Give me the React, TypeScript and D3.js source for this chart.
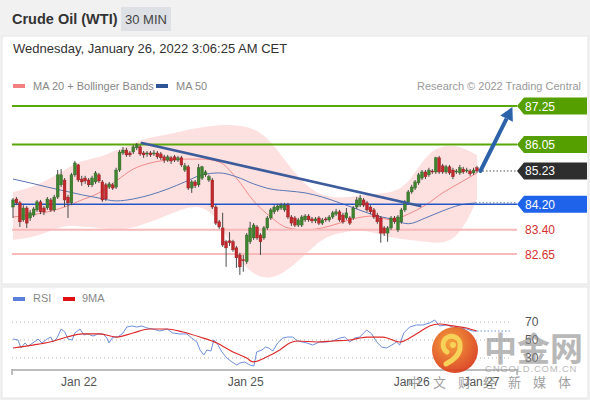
import React from "react";
import * as d3 from "d3";

// ---------- DATA ----------
// candles: [open, high, low, close]
const ohlc: [number, number, number, number][] = [
  [84.11, 84.39, 83.77, 84.33], [84.36, 84.42, 84.17, 84.24], [84.24, 84.30, 83.49, 83.65], [83.71, 84.17, 83.65, 84.08],
  [84.08, 84.14, 83.46, 83.61], [83.77, 84.02, 83.68, 83.93], [83.86, 84.11, 83.80, 84.05], [84.02, 84.33, 83.96, 84.27],
  [84.27, 84.33, 83.89, 83.96], [84.08, 84.14, 83.86, 83.96], [84.08, 84.42, 84.02, 84.36], [84.33, 84.39, 83.96, 84.02],
  [84.02, 84.49, 83.96, 84.42], [84.42, 85.26, 84.36, 85.11], [84.80, 85.29, 84.73, 85.11], [84.95, 85.01, 84.11, 84.33],
  [84.42, 84.49, 83.77, 84.24], [84.24, 85.17, 84.17, 85.11], [85.11, 85.54, 85.05, 85.48], [85.42, 85.45, 84.89, 84.95],
  [84.98, 85.08, 84.77, 84.89], [85.01, 85.08, 84.83, 84.92], [84.95, 85.01, 84.73, 84.80], [84.80, 85.08, 84.73, 85.01],
  [84.89, 85.23, 84.83, 85.17], [85.11, 85.17, 84.86, 84.92], [84.89, 84.95, 84.27, 84.33], [84.80, 84.86, 84.30, 84.36],
  [84.73, 84.89, 84.67, 84.83], [84.80, 84.86, 84.64, 84.70], [84.73, 85.33, 84.67, 85.26], [85.26, 85.88, 85.20, 85.82],
  [85.79, 85.98, 85.73, 85.88], [85.88, 85.95, 85.67, 85.73], [85.79, 85.85, 85.67, 85.73], [85.82, 86.04, 85.76, 85.98],
  [85.95, 86.10, 85.88, 86.04], [85.98, 86.04, 85.70, 85.76], [85.79, 85.85, 85.64, 85.73], [85.76, 85.85, 85.67, 85.79],
  [85.79, 85.85, 85.67, 85.73], [85.76, 85.88, 85.70, 85.79], [85.79, 85.85, 85.60, 85.67], [85.76, 85.82, 85.57, 85.64],
  [85.67, 85.73, 85.48, 85.57], [85.57, 85.73, 85.51, 85.67], [85.64, 85.70, 85.45, 85.54], [85.67, 85.73, 85.51, 85.57],
  [85.57, 85.70, 85.51, 85.64], [85.64, 85.70, 85.36, 85.42], [85.26, 85.48, 85.20, 85.39], [85.36, 85.42, 84.64, 84.70],
  [84.70, 84.95, 84.55, 84.89], [84.89, 84.95, 84.70, 84.77], [84.80, 85.45, 84.73, 85.33], [85.01, 85.39, 84.95, 85.36],
  [85.11, 85.26, 85.05, 85.20], [84.95, 85.11, 84.89, 85.05], [84.95, 85.01, 84.05, 84.11], [84.11, 84.17, 83.55, 83.61],
  [83.65, 83.71, 83.43, 83.49], [83.46, 83.93, 82.87, 82.93], [83.03, 83.09, 82.25, 82.84], [83.06, 83.33, 82.90, 83.00],
  [83.03, 83.09, 82.72, 82.78], [82.84, 82.90, 82.22, 82.53], [82.62, 82.69, 82.00, 82.25], [82.47, 82.62, 82.10, 82.44],
  [82.41, 83.30, 82.34, 83.24], [83.03, 83.65, 82.96, 83.46], [83.15, 83.61, 83.09, 83.55], [83.49, 83.55, 83.09, 83.15],
  [83.24, 83.30, 82.62, 83.03], [83.15, 83.52, 83.09, 83.46], [83.46, 83.83, 83.40, 83.77], [83.77, 84.08, 83.71, 84.02],
  [83.96, 84.17, 83.89, 84.11], [84.02, 84.21, 83.96, 84.14], [84.08, 84.24, 84.02, 84.17], [84.02, 84.24, 83.96, 84.17],
  [84.17, 84.24, 83.74, 83.80], [83.80, 83.86, 83.52, 83.61], [83.77, 83.83, 83.49, 83.55], [83.55, 83.77, 83.49, 83.71],
  [83.55, 83.86, 83.49, 83.80], [83.71, 83.89, 83.65, 83.83], [83.83, 83.89, 83.65, 83.71], [83.74, 83.80, 83.61, 83.68],
  [83.68, 83.80, 83.61, 83.74], [83.77, 83.83, 83.55, 83.61], [83.61, 83.77, 83.55, 83.71], [83.74, 83.80, 83.65, 83.71],
  [83.71, 83.86, 83.65, 83.80], [83.80, 83.99, 83.74, 83.93], [83.89, 84.05, 83.83, 83.96], [83.96, 84.02, 83.65, 83.71],
  [83.86, 83.93, 83.59, 83.65], [83.77, 84.08, 83.71, 83.93], [83.77, 83.83, 83.55, 83.61], [83.77, 84.14, 83.71, 84.08],
  [84.11, 84.42, 84.05, 84.33], [84.17, 84.49, 84.11, 84.39], [84.33, 84.39, 84.11, 84.17], [84.24, 84.30, 83.96, 84.02],
  [84.11, 84.17, 83.89, 83.96], [84.02, 84.08, 83.74, 83.80], [83.86, 83.93, 83.59, 83.65], [83.77, 83.83, 83.00, 83.30],
  [83.46, 83.52, 83.21, 83.30], [83.30, 83.52, 83.03, 83.46], [83.46, 83.83, 83.40, 83.77], [83.77, 83.83, 83.59, 83.65],
  [83.40, 83.86, 83.33, 83.80], [83.65, 84.08, 83.59, 84.02], [84.02, 84.33, 83.96, 84.27], [84.27, 84.64, 84.21, 84.58],
  [84.58, 84.80, 84.52, 84.73], [84.70, 84.95, 84.64, 84.89], [84.86, 85.17, 84.80, 85.11], [85.01, 85.26, 84.95, 85.20],
  [85.20, 85.26, 84.98, 85.05], [85.11, 85.33, 85.05, 85.26], [85.23, 85.29, 85.14, 85.20], [85.20, 85.67, 85.14, 85.64],
  [85.64, 85.70, 85.14, 85.20], [85.39, 85.45, 85.14, 85.20], [85.20, 85.42, 85.14, 85.36], [85.36, 85.42, 85.11, 85.17],
  [85.26, 85.33, 84.98, 85.05], [85.20, 85.29, 85.14, 85.23], [85.17, 85.42, 85.11, 85.33], [85.29, 85.36, 85.14, 85.20],
  [85.23, 85.33, 85.17, 85.26], [85.23, 85.29, 85.08, 85.14], [85.17, 85.33, 85.11, 85.26], [85.33, 85.39, 85.17, 85.23],
];

// indicator samples (candle index)
const sampleIdx = [0, 5, 10, 15, 20, 25, 30, 35, 40, 45, 50, 55, 60, 65, 70, 75, 80, 85, 90, 95, 100, 105, 110, 115, 120, 125, 130, 135];
const ma20 = [83.80, 83.86, 83.96, 84.11, 84.33, 84.55, 84.92, 85.29, 85.48, 85.57, 85.60, 85.60, 85.51, 85.01, 84.30, 83.80, 83.46, 83.40, 83.46, 83.61, 83.77, 83.83, 83.71, 83.89, 84.17, 84.55, 84.86, 85.17];
const ma50 = [84.98, 84.86, 84.73, 84.61, 84.49, 84.39, 84.30, 84.36, 84.49, 84.67, 84.89, 85.11, 85.17, 85.05, 84.83, 84.67, 84.61, 84.55, 84.42, 84.24, 84.05, 83.86, 83.74, 83.59, 83.77, 83.99, 84.17, 84.24];
const bbUpper = [84.58, 84.70, 84.95, 85.26, 85.57, 85.64, 85.88, 86.10, 86.29, 86.35, 86.50, 86.60, 86.66, 86.66, 86.57, 86.19, 85.42, 84.80, 84.45, 84.39, 84.45, 84.52, 84.55, 84.80, 85.73, 86.04, 86.01, 85.73];
const bbLower = [83.09, 83.15, 83.33, 83.55, 83.50, 83.46, 83.40, 83.46, 83.65, 83.86, 84.08, 84.17, 83.71, 82.53, 82.00, 81.85, 82.16, 82.62, 83.15, 83.30, 83.40, 83.33, 83.15, 83.09, 83.03, 82.96, 83.21, 84.33];

// key levels
const levelValues = [87.25, 86.05, 85.23, 84.2, 83.4, 82.65];
const levelTypes = ["resistance", "resistance", "last", "pivot", "support", "support"];

// trend line & forecast arrow (candle index, price)
const trendIdx = [37.5, 118.5];
const trendVal = [86.1, 84.14];
const arrowIdx = [136, 145.3];
const arrowVal = [85.23, 87.22];

// RSI
const rsiIdx = [0, 1.5, 2.3, 3.5, 4.4, 5.8, 7.3, 8.4, 9.9, 11, 11.6, 12.8, 14, 15.1, 16, 17.2, 18, 19.5, 20.6, 21.8, 23.3, 24.7, 26.2, 27.3, 27.9, 29.1, 30.5, 32, 33.1, 34.6, 36, 37.5, 39, 40.7, 42.7, 44.8, 46.5, 48.5, 50.6, 52, 53.5, 54.4, 55.5, 56.4, 57.6, 58.4, 59.3, 60.8, 62.2, 63.7, 65.1, 66, 67.4, 68.9, 70.1, 70.9, 72.4, 73.5, 74.4, 75.6, 77, 78.5, 79.9, 81.4, 82.8, 85.5, 87.2, 89.2, 91.3, 93, 95.1, 96.5, 98, 99.4, 100.9, 102.9, 104.4, 105.8, 107.3, 108.7, 110.2, 111.6, 112.5, 113.7, 115.4, 117.4, 119.2, 121.2, 122.7, 124.1, 126.2, 127.9, 129.9, 132, 133.7, 134.9];
const rsiVal = [51.1, 50, 41.1, 46.7, 43.3, 46.7, 51.1, 46.7, 51.1, 53.3, 47.8, 52.2, 62.2, 58.9, 51.1, 50, 57.8, 62.2, 55.6, 56.7, 54.4, 56.7, 56.7, 52.2, 46.7, 53.3, 53.3, 57.8, 64.4, 65.6, 64.4, 65.6, 63.3, 62.2, 60, 62.2, 57.8, 56.7, 56.7, 52.2, 47.8, 38.9, 33.3, 38.9, 37.8, 50, 46.7, 36.7, 30, 25.6, 22.2, 24.4, 25.6, 22.2, 21.1, 36.7, 38.9, 42.2, 41.1, 37.8, 46.7, 52.2, 53.3, 53.3, 48.9, 46.7, 44.4, 47.8, 47.8, 48.9, 52.2, 53.3, 47.8, 52.2, 53.3, 61.1, 56.7, 47.8, 42.2, 41.1, 44.4, 47.8, 44.4, 57.8, 64.4, 66.7, 66.7, 68.9, 72.2, 65.6, 66.7, 64.4, 63.3, 62.2, 60, 60];
const ma9Idx = [0, 5.8, 10.8, 15.7, 20.3, 25.3, 30.2, 34.9, 39.8, 44.8, 49.4, 54.4, 59.3, 64, 68, 69.8, 73.8, 77.6, 80.5, 82.8, 88.4, 93, 98, 102.9, 107.6, 112.5, 115.4, 118.3, 121.2, 124.1, 127.9, 132, 134.9];
const ma9Val = [41.1, 44.4, 47.8, 53.3, 56.7, 56.7, 53.3, 57.8, 62.2, 62.2, 58.9, 53.3, 46.7, 36.7, 30, 25.6, 31.1, 38.9, 46.7, 48.9, 47.8, 48.9, 50, 53.3, 53.3, 47.8, 52.2, 58.9, 65.6, 67.8, 65.6, 63.3, 60];
const rsiLevels = [70, 50, 30];

// x-axis
const tickIdx = [19.2, 67.7, 116, 136.3];
const tickLabels = ["Jan 22", "Jan 25", "Jan 26", "Jan 27"];

// ---------- CHART ----------
const FONT = "'Liberation Sans', Arial, Helvetica, sans-serif";
const W = 590;
const H = 400;

export default function App() {
  const x = d3.scaleLinear().domain([0, ohlc.length - 1]).range([13, 477]);
  const y = d3.scaleLinear().domain([82.65, 87.25]).range([254, 106]);
  const ry = d3.scaleLinear().domain([30, 70]).range([358, 322]);

  const xLeft = 12;
  const xRight = 517;
  const lastIdx = ohlc.length - 1;

  const bandArea = d3
    .area<number>()
    .x((_, i) => x(sampleIdx[i]))
    .y0((_, i) => y(bbLower[i]))
    .y1((_, i) => y(bbUpper[i]))
    .curve(d3.curveBasis);

  const lineOf = (idx: number[], vals: number[], ys: (v: number) => number, curve: d3.CurveFactory) =>
    d3
      .line<number>()
      .x((_, i) => x(idx[i]))
      .y((v) => ys(v))
      .curve(curve)(vals.slice(0, idx.length)) || "";

  const ma20Path = lineOf(sampleIdx, ma20, y, d3.curveMonotoneX);
  const ma50Path = lineOf(sampleIdx, ma50, y, d3.curveMonotoneX);
  const rsiPath = lineOf(rsiIdx, rsiVal, ry, d3.curveLinear);
  const ma9Path = lineOf(ma9Idx, ma9Val, ry, d3.curveMonotoneX);

  const green = "#3f8530";
  const red = "#c3282d";

  const levelColor: Record<string, string> = {
    resistance: "#55a000",
    last: "#2e2e2e",
    pivot: "#1f63ea",
    support: "#d3302f",
  };

  const labelPath = (yy: number) =>
    `M${xRight},${yy} L${xRight + 7},${yy - 8.5} L587,${yy - 8.5} L587,${yy + 8.5} L${xRight + 7},${yy + 8.5} Z`;

  // arrow geometry
  const ax0 = x(arrowIdx[0]);
  const ay0 = y(arrowVal[0]);
  const ax1 = x(arrowIdx[1]);
  const ay1 = y(arrowVal[1]);
  const ang = Math.atan2(ay1 - ay0, ax1 - ax0);
  const headLen = 13;
  const headW = 7;
  const bx = ax1 - headLen * Math.cos(ang);
  const by = ay1 - headLen * Math.sin(ang);
  const px = -Math.sin(ang);
  const py = Math.cos(ang);
  const headPts = `${ax1},${ay1} ${bx + headW * px},${by + headW * py} ${bx - headW * px},${by - headW * py}`;

  const ma50Last = ma50[ma50.length - 1];

  return (
    <svg
      width={W}
      height={H}
      viewBox={`0 0 ${W} ${H}`}
      style={{ position: "absolute", left: 0, top: 0, display: "block", fontFamily: FONT }}
    >
      <defs>
        <radialGradient id="logoGrad" cx="40%" cy="35%" r="70%">
          <stop offset="0%" stopColor="#f59a2a" />
          <stop offset="100%" stopColor="#d8361a" />
        </radialGradient>
        <clipPath id="mainClip">
          <rect x={2} y={96} width={586} height={188} />
        </clipPath>
      </defs>

      {/* backgrounds */}
      <rect x={0} y={0} width={W} height={H} fill="#f1f1f1" />
      <rect x={2} y={36} width={586} height={248} fill="#ffffff" stroke="#e6e6e6" />
      <rect x={2} y={287} width={586} height={111} fill="#ffffff" stroke="#e6e6e6" />

      {/* header */}
      <text x={12} y={24} fontSize={14.5} fontWeight="bold" fill="#333">
        Crude Oil (WTI)
      </text>
      <rect x={121} y={7} width={50} height={24} fill="#dde0e5" />
      <text x={146} y={24} fontSize={13} fill="#444" textAnchor="middle">
        30 MIN
      </text>
      <text x={13} y={53} fontSize={13} fill="#333">
        Wednesday, January 26, 2022 3:06:25 AM CET
      </text>

      {/* legend */}
      <rect x={13} y={84} width={12} height={4} fill="#f28080" />
      <text x={33} y={90} fontSize={11} fill="#888">
        MA 20 + Bollinger Bands
      </text>
      <rect x={156} y={84} width={12} height={4} fill="#2f5597" />
      <text x={176} y={90} fontSize={11} fill="#888">
        MA 50
      </text>
      <text x={581} y={90} fontSize={11} fill="#9a9a9a" textAnchor="end">
        Research © 2022 Trading Central
      </text>

      <g clipPath="url(#mainClip)">
        {/* bollinger band */}
        <path d={bandArea(bbUpper) || ""} fill="#fcd8d8" opacity={0.8} />
        <path d={ma20Path} fill="none" stroke="#f08a8a" strokeWidth={1} />
        <path d={ma50Path} fill="none" stroke="#5a78b4" strokeWidth={1} />
      </g>

      {/* level lines */}
      {levelValues.map((v, i) => {
        const t = levelTypes[i];
        const yy = y(v);
        if (t === "last") {
          return (
            <line key={i} x1={x(lastIdx) + 2} x2={xRight} y1={yy} y2={yy} stroke="#555" strokeWidth={1} strokeDasharray="1.5,2" />
          );
        }
        const stroke = t === "resistance" ? "#5aa70a" : t === "pivot" ? "#2557c7" : "#f7b9b9";
        const sw = t === "pivot" ? 1.5 : 2;
        return <line key={i} x1={xLeft} x2={xRight} y1={yy} y2={yy} stroke={stroke} strokeWidth={sw} />;
      })}
      {/* ma50 continuation */}
      <line x1={x(lastIdx) + 2} x2={xRight} y1={y(ma50Last)} y2={y(ma50Last)} stroke="#5a78b4" strokeWidth={1} strokeDasharray="1.5,2" />

      {/* candles */}
      {ohlc.map((d, i) => {
        const [o, h, l, c] = d;
        const up = c >= o;
        const cx = x(i);
        const top = y(Math.max(o, c));
        const bot = y(Math.min(o, c));
        const col = up ? green : red;
        return (
          <g key={i}>
            <line x1={cx} x2={cx} y1={y(h)} y2={y(l)} stroke="#4a4a4a" strokeWidth={1} />
            <rect x={cx - 1.4} y={top} width={2.8} height={Math.max(1, bot - top)} fill={col} stroke={up ? "#2e5e22" : "#8e1c1c"} strokeWidth={0.4} />
          </g>
        );
      })}

      {/* trend line */}
      <line x1={x(trendIdx[0])} y1={y(trendVal[0])} x2={x(trendIdx[1])} y2={y(trendVal[1])} stroke="#3d5c9c" strokeWidth={2.6} strokeLinecap="round" />

      {/* forecast arrow */}
      <line x1={ax0} y1={ay0} x2={bx} y2={by} stroke="#2c62a8" strokeWidth={4} />
      <polygon points={headPts} fill="#2c62a8" />
      <circle cx={ax0} cy={ay0} r={2} fill="#2c62a8" />

      {/* level labels */}
      {levelValues.map((v, i) => {
        const t = levelTypes[i];
        const yy = y(v);
        if (t === "support") {
          return (
            <text key={i} x={525} y={yy + 4.5} fontSize={12} fill={levelColor[t]}>
              {v.toFixed(2)}
            </text>
          );
        }
        return (
          <g key={i}>
            <path d={labelPath(yy)} fill={levelColor[t]} />
            <text x={525} y={yy + 4.5} fontSize={12} fill="#fff">
              {v.toFixed(2)}
            </text>
          </g>
        );
      })}

      {/* RSI panel */}
      <rect x={13} y={297} width={12} height={4} fill="#5b7fdb" />
      <text x={33} y={302} fontSize={11} fill="#888">
        RSI
      </text>
      <rect x={63} y={297} width={12} height={4} fill="#e01010" />
      <text x={82} y={302} fontSize={11} fill="#888">
        9MA
      </text>
      {rsiLevels.map((v) => (
        <g key={v}>
          <line x1={xLeft} x2={512} y1={ry(v)} y2={ry(v)} stroke="#b5b5b5" strokeWidth={1} strokeDasharray="1,3" />
          <text x={525} y={ry(v) + 4} fontSize={12} fill="#555">
            {v}
          </text>
        </g>
      ))}
      <path d={rsiPath} fill="none" stroke="#6f8fdc" strokeWidth={1} />
      <path d={ma9Path} fill="none" stroke="#dd2a2a" strokeWidth={1.2} />
      <line x1={x(lastIdx)} x2={512} y1={ry(rsiVal[rsiVal.length - 1])} y2={ry(rsiVal[rsiVal.length - 1])} stroke="#6f8fdc" strokeWidth={1} strokeDasharray="1.5,2" />

      {/* x axis */}
      <line x1={xLeft} x2={xRight} y1={370} y2={370} stroke="#a8a8a8" strokeWidth={1.5} />
      <line x1={xLeft} x2={xLeft} y1={369} y2={375} stroke="#a8a8a8" strokeWidth={1.5} />
      <line x1={xRight} x2={xRight} y1={369} y2={375} stroke="#a8a8a8" strokeWidth={1.5} />
      {tickIdx.map((t, i) => (
        <text key={i} x={x(t)} y={386} fontSize={12} fill="#555" textAnchor="middle">
          {tickLabels[i]}
        </text>
      ))}

      {/* watermark */}
      <g opacity={0.92}>
        <circle cx={455} cy={350} r={23} fill="url(#logoGrad)" />
        <path d="M447,352 a8.5,8.5 0 1 1 13,-6 q1,10 -14,18" fill="none" stroke="#f7cf4a" strokeWidth={5} strokeLinecap="round" />
        <circle cx={453} cy={345} r={3} fill="#f7cf4a" />
      </g>
      <g opacity={0.6}>
        <text x={484} y={361} fontSize={33} fontWeight="bold" fill="#8a8a8a" fontFamily="'Noto Sans CJK SC', sans-serif">
          中金网
        </text>
        <text x={485} y={372} fontSize={9.5} fill="#8a8a8a" letterSpacing={0.8}>
          CNGOLD.COM.CN
        </text>
      </g>
      <text x={408} y={387} fontSize={13} fill="#8a8a8a" opacity={0.8} letterSpacing={12} fontFamily="'Noto Sans CJK SC', sans-serif">
        中文财经新媒体
      </text>
    </svg>
  );
}
